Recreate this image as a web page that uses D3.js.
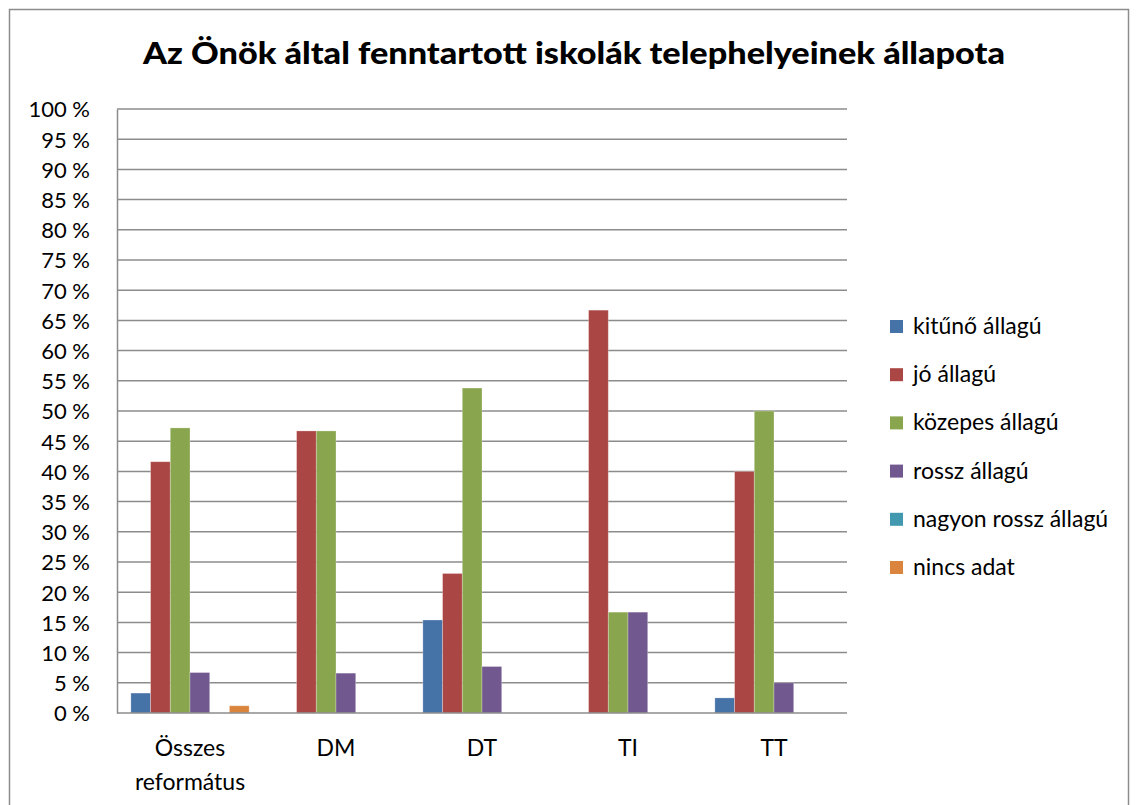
<!DOCTYPE html>
<meta charset="utf-8">
<head>
  <title>Telephelyek állapota</title>
</head>
<style>
body { margin: 0; background: #fff; }
text { font-family: Lato, "Open Sans", sans-serif; fill: #000; }
.grid line { stroke: #8c8c8c; stroke-width: 1.5px; }
.axis path, .axis line { stroke: #8c8c8c; stroke-width: 1.5px; }
</style>
<body>
  <svg width="1137" height="805"></svg>
  <script src="https://cdnjs.cloudflare.com/ajax/libs/d3/7.8.5/d3.min.js"></script>
  <script>
var title = 'Az Önök által fenntartott iskolák telephelyeinek állapota';
var categories = ['Összes református', 'DM', 'DT', 'TI', 'TT'];
var series = ['kitűnő állagú', 'jó állagú', 'közepes állagú', 'rossz állagú', 'nagyon rossz állagú', 'nincs adat'];
var colors = ['#4572a7', '#aa4643', '#89a54e', '#71588f', '#4198af', '#db843d'];
// one array per series, values in % for each category
var kitunoValues = [3.3, 0, 15.4, 0, 2.5];
var joValues = [41.6, 46.7, 23.1, 66.7, 40.0];
var kozepesValues = [47.2, 46.7, 53.8, 16.7, 50.0];
var rosszValues = [6.7, 6.6, 7.7, 16.7, 5.0];
var nagyonRosszValues = [0, 0, 0, 0, 0];
var nincsAdatValues = [1.2, 0, 0, 0, 0];
var yTicks = d3.range(0, 101, 5);

var values = [kitunoValues, joValues, kozepesValues, rosszValues, nagyonRosszValues, nincsAdatValues];

var svg = d3.select('svg');
var plotLeft = 117, plotRight = 847, plotTop = 109, plotBottom = 713;

// outer frame
svg.append('rect')
  .attr('x', 9.5).attr('y', 9.5)
  .attr('width', 1119).attr('height', 820)
  .attr('fill', 'none').attr('stroke', '#8c8c8c').attr('stroke-width', 1.5);

svg.append('text')
  .attr('x', 574).attr('y', 64)
  .attr('text-anchor', 'middle')
  .attr('font-size', 31).attr('font-weight', 900)
  .attr('textLength', 862).attr('lengthAdjust', 'spacingAndGlyphs')
  .text(title);

var y = d3.scaleLinear().domain([0, 100]).range([plotBottom, plotTop]);
var x0 = d3.scaleBand().domain(categories).range([plotLeft, plotRight]).paddingInner(0.19).paddingOuter(0.095);
var x1 = d3.scaleBand().domain(series).range([0, x0.bandwidth()]);

// gridlines
svg.append('g').attr('class', 'grid')
  .selectAll('line')
  .data(yTicks.filter(function(d) { return d > 0; }))
  .enter().append('line')
  .attr('x1', plotLeft).attr('x2', plotRight)
  .attr('y1', function(d) { return y(d); })
  .attr('y2', function(d) { return y(d); });

// bars
var groups = svg.append('g')
  .selectAll('g')
  .data(series)
  .enter().append('g')
  .attr('fill', function(d, i) { return colors[i]; });

groups.selectAll('rect')
  .data(function(s, i) { return values[i].map(function(v, j) { return {s: s, c: categories[j], v: v}; }); })
  .enter().append('rect')
  .attr('x', function(d) { return x0(d.c) + x1(d.s); })
  .attr('y', function(d) { return y(d.v); })
  .attr('width', x1.bandwidth())
  .attr('height', function(d) { return plotBottom - y(d.v); })
  .attr('stroke', '#fff').attr('stroke-opacity', 0.35).attr('stroke-width', 0.8);

// y axis
var yAxis = svg.append('g').attr('class', 'axis')
  .attr('transform', 'translate(' + plotLeft + ',0)')
  .call(d3.axisLeft(y).tickValues(yTicks).tickSize(0).tickPadding(27)
    .tickFormat(function(d) { return d + ' %'; }));
yAxis.selectAll('text').attr('font-size', 22).attr('dy', '0.36em');

// x axis
var xAxis = svg.append('g').attr('class', 'axis')
  .attr('transform', 'translate(0,' + plotBottom + ')')
  .call(d3.axisBottom(x0).tickSize(0).tickPadding(0).tickSizeOuter(0));
xAxis.select('.domain').attr('d', 'M' + plotLeft + ',0H' + plotRight);
xAxis.selectAll('.tick text').each(function(d) {
  var t = d3.select(this).text('').attr('font-size', 23).attr('y', 0).attr('dy', 0);
  d.split(' ').forEach(function(w, i) {
    t.append('tspan').attr('x', 0).attr('y', 43 + i * 34).text(w);
  });
});

// legend
var legend = svg.append('g')
  .selectAll('g')
  .data(series)
  .enter().append('g')
  .attr('transform', function(d, i) { return 'translate(890,' + (326 + i * 48.2) + ')'; });
legend.append('rect')
  .attr('x', 0).attr('y', -6)
  .attr('width', 13).attr('height', 13)
  .attr('fill', function(d, i) { return colors[i]; });
legend.append('text')
  .attr('x', 23).attr('y', 0).attr('dy', '0.35em')
  .attr('font-size', 23)
  .text(function(d) { return d; });
  </script>
</body>
</html>
